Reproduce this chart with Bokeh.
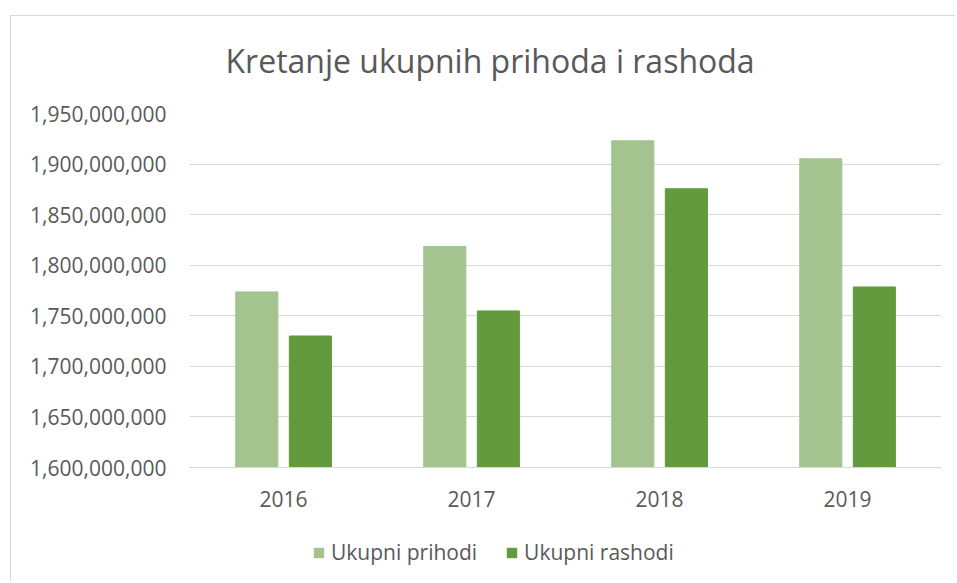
from bokeh.plotting import figure
from bokeh.layouts import column
from bokeh.models import (ColumnDataSource, FactorRange, Range1d, NumeralTickFormatter,
                          FixedTicker, Legend, LegendItem, Title)
from bokeh.transform import dodge
from bokeh.embed import file_html
from bokeh.resources import INLINE

years = ["2016", "2017", "2018", "2019"]
prihodi = [1773600000, 1818600000, 1923000000, 1905200000]
rashodi = [1730000000, 1754800000, 1875600000, 1778500000]
y_ticks = [1600000000, 1650000000, 1700000000, 1750000000, 1800000000,
           1850000000, 1900000000, 1950000000]
title_text = "Kretanje ukupnih prihoda i rashoda"
series_names = ["Ukupni prihodi", "Ukupni rashodi"]

LIGHT = "#a3c48f"
DARK = "#629a3d"
TEXT = "#595959"
GRID = "#d9d9d9"
FONT = "Open Sans"

src = ColumnDataSource(dict(year=years, pri=prihodi, ras=rashodi))

W = 944
p = figure(x_range=FactorRange(*years, range_padding=0),
           y_range=Range1d(y_ticks[0], y_ticks[-1]),
           width=W, height=509, output_backend="svg", toolbar_location=None,
           min_border_left=178, min_border_right=14, min_border_top=97,
           min_border_bottom=58)
p.outline_line_color = None
p.background_fill_color = "white"
p.border_fill_color = "white"

r1 = p.vbar(x=dodge("year", -0.142, range=p.x_range), top="pri", bottom=y_ticks[0],
            width=0.224, source=src, fill_color=LIGHT, line_color=LIGHT)
r2 = p.vbar(x=dodge("year", 0.143, range=p.x_range), top="ras", bottom=y_ticks[0],
            width=0.224, source=src, fill_color=DARK, line_color=DARK)

# spacer between title and plot area (closest to the frame), then the title
spacer = Title(text=" ", text_font_size="1px", standoff=24)
p.add_layout(spacer, "above")
t = Title(text=title_text, align="left", offset=36, text_font=FONT,
          text_font_size="32px", text_color=TEXT, text_font_style="normal",
          vertical_align="bottom", standoff=10)
p.add_layout(t, "above")

p.yaxis.ticker = FixedTicker(ticks=y_ticks)
p.yaxis.formatter = NumeralTickFormatter(format="0,0")
p.yaxis.axis_line_color = None
p.yaxis.major_tick_line_color = None
p.yaxis.minor_tick_line_color = None
p.yaxis.major_label_standoff = 17
p.yaxis.major_label_text_font = FONT
p.yaxis.major_label_text_font_size = "21px"
p.yaxis.major_label_text_color = TEXT

p.xaxis.axis_line_color = GRID
p.xaxis.axis_line_width = 1
p.xaxis.major_tick_line_color = None
p.xaxis.minor_tick_line_color = None
p.xaxis.major_label_standoff = 17
p.xaxis.major_label_text_font = FONT
p.xaxis.major_label_text_font_size = "21px"
p.xaxis.major_label_text_color = TEXT

p.xgrid.grid_line_color = None
p.ygrid.grid_line_color = GRID
p.ygrid.grid_line_width = 1
p.ygrid.ticker = FixedTicker(ticks=y_ticks)

# legend strip below the chart (its frame is aligned with the chart frame)
lf = figure(width=W, height=56, output_backend="svg", toolbar_location=None,
            x_range=Range1d(0, 1), y_range=Range1d(0, 1),
            min_border_left=0, min_border_right=0, min_border_top=0, min_border_bottom=0)
lf.axis.visible = False
lf.grid.visible = False
lf.outline_line_color = None
lf.background_fill_color = "white"
lf.border_fill_color = "white"
swatch_src = ColumnDataSource(dict(x=[0.5], top=[0]))  # zero-height, only for legend swatches
d1 = lf.vbar(x="x", top="top", bottom=0, width=0.0, source=swatch_src,
             fill_color=LIGHT, line_color=None)
d2 = lf.vbar(x="x", top="top", bottom=0, width=0.0, source=swatch_src,
             fill_color=DARK, line_color=None)
legend = Legend(items=[LegendItem(label=series_names[0], renderers=[d1]),
                       LegendItem(label=series_names[1], renderers=[d2])],
                orientation="horizontal", location=(123, 15),
                glyph_width=13, glyph_height=13, label_standoff=6, spacing=28,
                padding=0, margin=0, border_line_color=None, background_fill_alpha=0,
                label_text_font=FONT, label_text_font_size="21px", label_text_color=TEXT)
lf.add_layout(legend, "center")

root = column(p, lf, spacing=0)
root.margin = (15, 0, 0, 10)
root.styles = {"border-left": "1px solid #d9d9d9", "border-top": "1px solid #d9d9d9"}

open("out.html", "w").write(file_html(root, INLINE))
